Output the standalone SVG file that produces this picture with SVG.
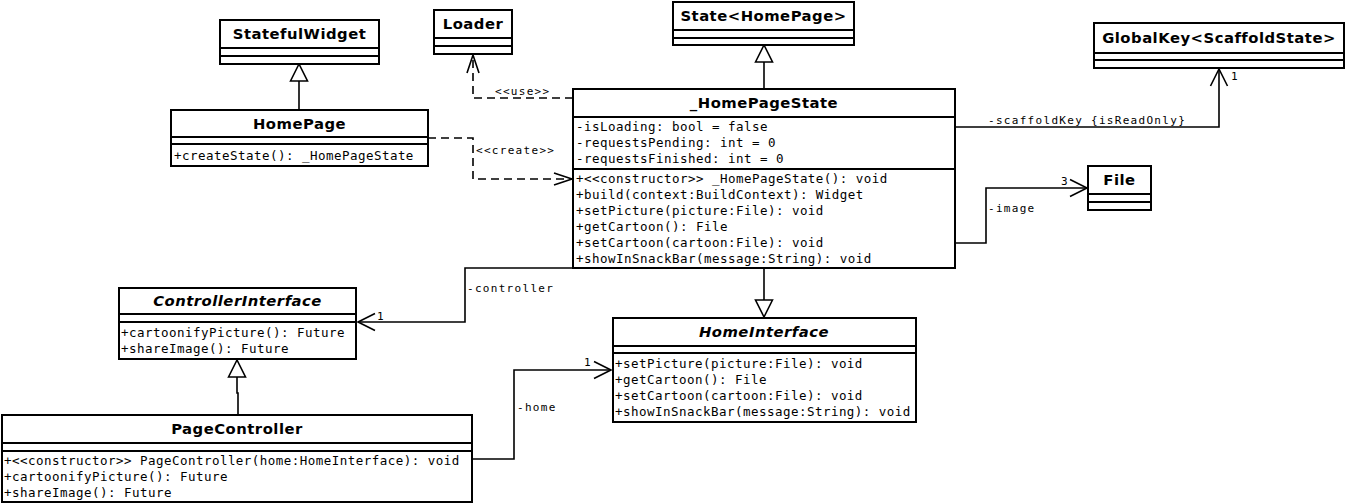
<svg xmlns="http://www.w3.org/2000/svg" width="1346" height="504" viewBox="0 0 1346 504">
<style>
.box{fill:#fff;stroke:#000;stroke-width:2}
.sep{stroke:#000;stroke-width:2}
.title{font-family:"DejaVu Sans",sans-serif;font-weight:bold;font-size:14.8px;letter-spacing:0.5px;text-anchor:middle;fill:#000}
.it{font-style:italic}
.mem{font-family:"DejaVu Sans Mono",monospace;font-size:12.5px;letter-spacing:0.47px;fill:#000}
.lbl{font-family:"DejaVu Sans Mono",monospace;font-size:11px;letter-spacing:1.3px;fill:#000}
.edge{fill:none;stroke:#000;stroke-width:1.6}
.dash{stroke-dasharray:8 5}
</style>
<defs>
<marker id="open" markerUnits="userSpaceOnUse" markerWidth="20" markerHeight="20" viewBox="0 0 20 20" refX="18" refY="10" orient="auto" overflow="visible">
<path d="M1 1.5 L18 10 L1 18.5" fill="none" stroke="#000" stroke-width="1.6"/>
</marker>
<marker id="openDash" markerUnits="userSpaceOnUse" markerWidth="20" markerHeight="20" viewBox="0 0 20 20" refX="18" refY="10" orient="auto" overflow="visible">
<path d="M0 4 L18 10 L0 16" fill="none" stroke="#000" stroke-width="1.6" stroke-dasharray="none"/>
</marker>
<marker id="tri" markerUnits="userSpaceOnUse" markerWidth="20" markerHeight="20" viewBox="0 0 20 20" refX="18" refY="10" orient="auto" overflow="visible">
<path d="M1 1.5 L18 10 L1 18.5 Z" fill="#fff" stroke="#000" stroke-width="1.6"/>
</marker>
</defs>

<g id="connectors">
<path class="edge" d="M299 110 L299 64" marker-end="url(#tri)"/>
<path class="edge dash" d="M573 98 L473 98 L473 55" marker-end="url(#openDash)"/>
<path class="edge dash" d="M428 138 L473 138 L473 179 L572 179" marker-end="url(#openDash)"/>
<path class="edge" d="M764 89 L764 45" marker-end="url(#tri)"/>
<path class="edge" d="M955 127 L1219 127 L1219 69" marker-end="url(#open)"/>
<path class="edge" d="M955 243 L986 243 L986 188 L1087 188" marker-end="url(#open)"/>
<path class="edge" d="M573 268 L465 268 L465 322 L358 322" marker-end="url(#open)"/>
<path class="edge" d="M764 268 L764 317" marker-end="url(#tri)"/>
<path class="edge" d="M472 459 L514 459 L514 370 L611 370" marker-end="url(#open)"/>
<path class="edge" d="M238 415 L238 393 L237 393 L237 360" marker-end="url(#tri)"/>
<text class="lbl" x="495" y="95">&lt;&lt;use&gt;&gt;</text>
<text class="lbl" x="476" y="154">&lt;&lt;create&gt;&gt;</text>
<text class="lbl" x="988" y="124">-scaffoldKey {isReadOnly}</text>
<text class="lbl" x="1231" y="80">1</text>
<text class="lbl" x="1061" y="185">3</text>
<text class="lbl" x="988" y="212">-image</text>
<text class="lbl" x="467" y="292">-controller</text>
<text class="lbl" x="377" y="320">1</text>
<text class="lbl" x="517" y="411">-home</text>
<text class="lbl" x="584" y="366">1</text>
</g>

<g id="StatefulWidget">
<rect class="box" x="220" y="20" width="159" height="44"/>
<line class="sep" x1="220" y1="48" x2="379" y2="48"/>
<line class="sep" x1="220" y1="56" x2="379" y2="56"/>
<text class="title" x="299.5" y="39">StatefulWidget</text>
</g>

<g id="Loader">
<rect class="box" x="434" y="10" width="78" height="44"/>
<line class="sep" x1="434" y1="38" x2="512" y2="38"/>
<line class="sep" x1="434" y1="46" x2="512" y2="46"/>
<text class="title" x="473" y="29">Loader</text>
</g>

<g id="HomePage">
<rect class="box" x="171" y="110" width="257" height="56"/>
<line class="sep" x1="171" y1="137" x2="428" y2="137"/>
<line class="sep" x1="171" y1="144" x2="428" y2="144"/>
<text class="title" x="299.5" y="129">HomePage</text>
<text class="mem" x="174" y="160">+createState(): _HomePageState</text>
</g>

<g id="StateHomePage">
<rect class="box" x="673" y="2" width="181" height="43"/>
<line class="sep" x1="673" y1="30" x2="854" y2="30"/>
<line class="sep" x1="673" y1="38" x2="854" y2="38"/>
<text class="title" x="763.5" y="21">State&lt;HomePage&gt;</text>
</g>

<g id="HomePageState">
<rect class="box" x="573" y="89" width="382" height="179"/>
<line class="sep" x1="573" y1="117" x2="955" y2="117"/>
<line class="sep" x1="573" y1="169" x2="955" y2="169"/>
<text class="title" x="764" y="108">_HomePageState</text>
<text class="mem" x="576" y="131">-isLoading: bool = false</text>
<text class="mem" x="576" y="147">-requestsPending: int = 0</text>
<text class="mem" x="576" y="163">-requestsFinished: int = 0</text>
<text class="mem" x="576" y="183">+&lt;&lt;constructor&gt;&gt; _HomePageState(): void</text>
<text class="mem" x="576" y="199">+build(context:BuildContext): Widget</text>
<text class="mem" x="576" y="215">+setPicture(picture:File): void</text>
<text class="mem" x="576" y="231">+getCartoon(): File</text>
<text class="mem" x="576" y="247">+setCartoon(cartoon:File): void</text>
<text class="mem" x="576" y="263">+showInSnackBar(message:String): void</text>
</g>

<g id="GlobalKey">
<rect class="box" x="1094" y="23" width="250" height="45"/>
<line class="sep" x1="1094" y1="53" x2="1344" y2="53"/>
<line class="sep" x1="1094" y1="60" x2="1344" y2="60"/>
<text class="title" x="1219" y="43">GlobalKey&lt;ScaffoldState&gt;</text>
</g>

<g id="File">
<rect class="box" x="1088" y="166" width="63" height="44"/>
<line class="sep" x1="1088" y1="194" x2="1151" y2="194"/>
<line class="sep" x1="1088" y1="202" x2="1151" y2="202"/>
<text class="title" x="1119.5" y="185">File</text>
</g>

<g id="ControllerInterface">
<rect class="box" x="119" y="288" width="237" height="71"/>
<line class="sep" x1="119" y1="314" x2="356" y2="314"/>
<line class="sep" x1="119" y1="322" x2="356" y2="322"/>
<text class="title it" x="237.5" y="306">ControllerInterface</text>
<text class="mem" x="121" y="337">+cartoonifyPicture(): Future</text>
<text class="mem" x="121" y="353">+shareImage(): Future</text>
</g>

<g id="HomeInterface">
<rect class="box" x="613" y="318" width="303" height="104"/>
<line class="sep" x1="613" y1="346" x2="916" y2="346"/>
<line class="sep" x1="613" y1="353" x2="916" y2="353"/>
<text class="title it" x="764" y="337">HomeInterface</text>
<text class="mem" x="615" y="368">+setPicture(picture:File): void</text>
<text class="mem" x="615" y="384">+getCartoon(): File</text>
<text class="mem" x="615" y="400">+setCartoon(cartoon:File): void</text>
<text class="mem" x="615" y="416">+showInSnackBar(message:String): void</text>
</g>

<g id="PageController">
<rect class="box" x="2" y="415" width="470" height="87"/>
<line class="sep" x1="2" y1="443" x2="472" y2="443"/>
<line class="sep" x1="2" y1="451" x2="472" y2="451"/>
<text class="title" x="237" y="434">PageController</text>
<text class="mem" x="4" y="465">+&lt;&lt;constructor&gt;&gt; PageController(home:HomeInterface): void</text>
<text class="mem" x="4" y="481">+cartoonifyPicture(): Future</text>
<text class="mem" x="4" y="497">+shareImage(): Future</text>
</g>
</svg>
